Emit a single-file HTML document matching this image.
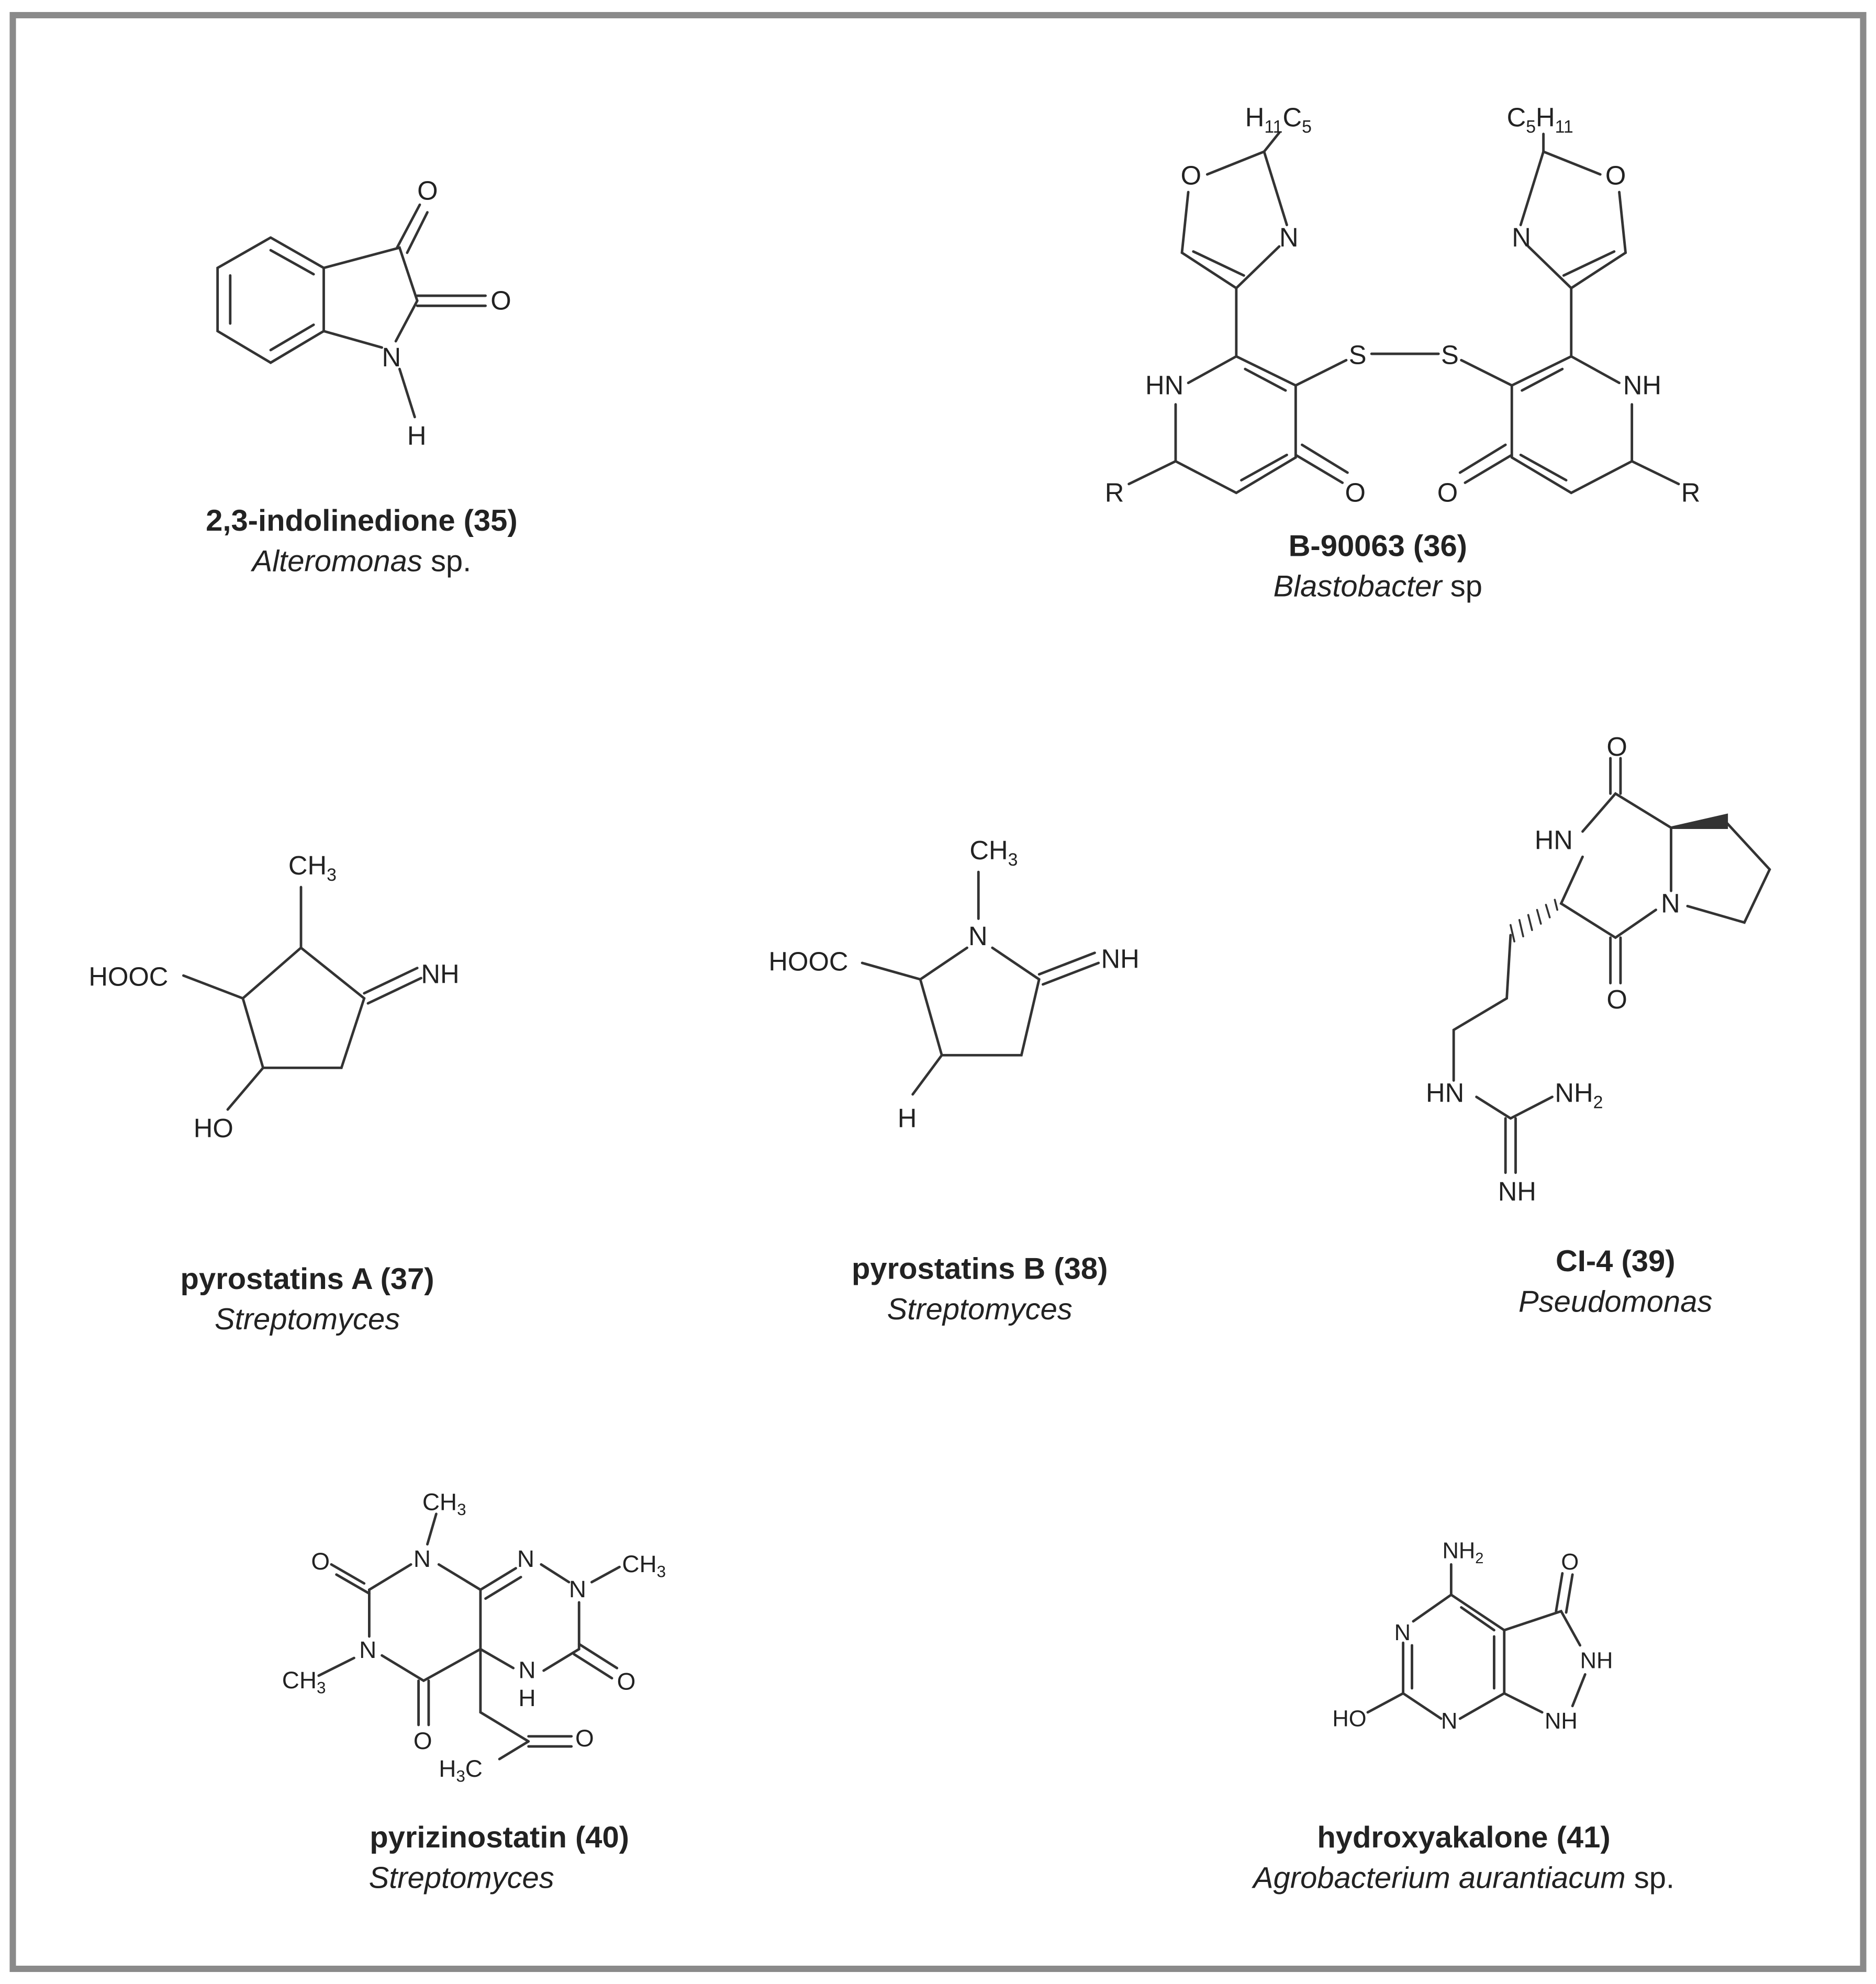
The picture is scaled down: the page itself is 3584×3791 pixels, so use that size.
<!DOCTYPE html>
<html><head><meta charset="utf-8"><style>
html,body{margin:0;padding:0;background:#fff}
svg{display:block}
text{font-family:"Liberation Sans",sans-serif;fill:#222}
.a{font-size:21px}
.t{font-size:24px;font-weight:bold;text-anchor:middle}
.s{font-size:24px;font-style:italic;text-anchor:middle}
</style></head><body>
<svg width="3584" height="3791" viewBox="0 0 1484 1570" xmlns="http://www.w3.org/2000/svg">
<rect x="0" y="0" width="1484" height="1570" fill="#fff"/>
<rect x="10" y="12" width="1464" height="1546" fill="none" stroke="#8a8a8a" stroke-width="5"/>
<g stroke="#333" stroke-width="2" fill="none" stroke-linecap="round">
<!-- 35 -->
<polyline points="214,188 256,212 256,262 214,287 172,262 172,212 214,188"/>
<line x1="182" y1="218" x2="182" y2="256"/><line x1="214" y1="277" x2="248" y2="257"/><line x1="214" y1="198" x2="248" y2="217"/>
<polyline points="256,212 316,196 330,238 313,270"/><line x1="256" y1="262" x2="302" y2="275"/>
<line x1="314" y1="196" x2="332" y2="162"/><line x1="322" y1="200" x2="338" y2="168"/>
<line x1="330" y1="234" x2="384" y2="234"/><line x1="330" y1="242" x2="384" y2="242"/>
<line x1="316" y1="292" x2="328" y2="330"/>
<!-- 36 left -->
<polyline points="940,303 978,282 1025,305 1025,362 978,390 930,365 930,320"/>
<line x1="985" y1="292" x2="1017" y2="309"/><line x1="982" y1="380" x2="1018" y2="360"/>
<line x1="930" y1="365" x2="893" y2="383"/>
<line x1="1025" y1="360" x2="1062" y2="382"/><line x1="1030" y1="352" x2="1066" y2="374"/>
<line x1="1025" y1="305" x2="1065" y2="285"/><line x1="1085" y1="280" x2="1138" y2="280"/>
<line x1="978" y1="282" x2="978" y2="228"/>
<polyline points="1012,195 978,228 935,200 940,152"/><line x1="984" y1="218" x2="944" y2="199"/>
<polyline points="955,138 1000,120 1018,178"/><line x1="1000" y1="120" x2="1012" y2="105"/>
<!-- 36 right -->
<polyline points="1281,303 1243,282 1196,305 1196,362 1243,390 1291,365 1291,320"/>
<line x1="1236" y1="292" x2="1204" y2="309"/><line x1="1239" y1="380" x2="1203" y2="360"/>
<line x1="1291" y1="365" x2="1328" y2="383"/>
<line x1="1196" y1="360" x2="1159" y2="382"/><line x1="1191" y1="352" x2="1155" y2="374"/>
<line x1="1196" y1="305" x2="1156" y2="285"/>
<line x1="1243" y1="282" x2="1243" y2="228"/>
<polyline points="1209,195 1243,228 1286,200 1281,152"/><line x1="1237" y1="218" x2="1277" y2="199"/>
<polyline points="1266,138 1221,120 1203,178"/><line x1="1221" y1="120" x2="1221" y2="106"/>
<!-- 37 -->
<polyline points="238,750 192,790 208,845 270,845 288,790 238,750"/>
<line x1="238" y1="750" x2="238" y2="702"/><line x1="192" y1="790" x2="145" y2="772"/>
<line x1="208" y1="845" x2="180" y2="878"/>
<line x1="288" y1="786" x2="330" y2="766"/><line x1="291" y1="794" x2="333" y2="774"/>
<!-- 38 -->
<polyline points="765,750 728,775 745,835 808,835 822,775 785,750"/>
<line x1="774" y1="727" x2="774" y2="690"/><line x1="728" y1="775" x2="682" y2="762"/>
<line x1="745" y1="835" x2="722" y2="866"/>
<line x1="822" y1="771" x2="866" y2="754"/><line x1="825" y1="779" x2="869" y2="762"/>
<!-- 39 -->
<polyline points="1252,658 1278,628 1322,655 1322,705"/>
<polyline points="1252,678 1235,715 1278,742 1310,720"/>
<line x1="1274" y1="628" x2="1274" y2="600"/><line x1="1282" y1="628" x2="1282" y2="600"/>
<line x1="1274" y1="742" x2="1274" y2="778"/><line x1="1282" y1="742" x2="1282" y2="778"/>
<polyline points="1365,650 1400,688 1380,730 1335,717"/>
<polygon points="1322,655 1366,645 1366,655" fill="#333"/>
<g stroke-width="1.5">
<line x1="1230" y1="712" x2="1232" y2="720"/><line x1="1223" y1="716" x2="1226" y2="726"/><line x1="1216" y1="720" x2="1219" y2="731"/><line x1="1209" y1="724" x2="1212" y2="736"/><line x1="1202" y1="728" x2="1205" y2="741"/><line x1="1195" y1="732" x2="1198" y2="745"/>
</g>
<polyline points="1195,740 1192,790 1150,815 1150,855"/>
<line x1="1168" y1="868" x2="1195" y2="885"/><line x1="1195" y1="885" x2="1228" y2="868"/>
<line x1="1191" y1="885" x2="1191" y2="928"/><line x1="1199" y1="885" x2="1199" y2="928"/>
<!-- 40 -->
<line x1="338" y1="1222" x2="345" y2="1198"/>
<polyline points="325,1238 292,1258 292,1295"/>
<line x1="288" y1="1253" x2="262" y2="1238"/><line x1="292" y1="1261" x2="266" y2="1246"/>
<line x1="280" y1="1312" x2="252" y2="1326"/>
<polyline points="302,1310 335,1330 380,1305 380,1258 347,1238"/>
<line x1="331" y1="1330" x2="331" y2="1365"/><line x1="339" y1="1330" x2="339" y2="1365"/>
<line x1="380" y1="1258" x2="408" y2="1241"/><line x1="384" y1="1265" x2="412" y2="1248"/>
<line x1="428" y1="1238" x2="450" y2="1252"/><line x1="468" y1="1252" x2="490" y2="1240"/>
<polyline points="458,1268 458,1305 430,1322"/>
<line x1="458" y1="1301" x2="488" y2="1320"/><line x1="454" y1="1309" x2="484" y2="1328"/>
<line x1="380" y1="1305" x2="406" y2="1320"/>
<polyline points="380,1305 380,1355 418,1378"/>
<line x1="418" y1="1374" x2="452" y2="1374"/><line x1="418" y1="1382" x2="452" y2="1382"/>
<line x1="418" y1="1378" x2="395" y2="1392"/>
<!-- 41 -->
<line x1="1148" y1="1262" x2="1148" y2="1238"/>
<polyline points="1118,1283 1148,1262 1190,1290 1190,1340 1155,1360"/>
<line x1="1156" y1="1272" x2="1182" y2="1290"/><line x1="1182" y1="1295" x2="1182" y2="1336"/>
<polyline points="1110,1300 1110,1340 1140,1360"/><line x1="1117" y1="1302" x2="1117" y2="1336"/>
<line x1="1110" y1="1340" x2="1082" y2="1355"/>
<polyline points="1190,1290 1235,1275 1250,1302"/><polyline points="1190,1340 1220,1355"/>
<line x1="1254" y1="1325" x2="1244" y2="1350"/>
<line x1="1231" y1="1275" x2="1236" y2="1245"/><line x1="1239" y1="1276" x2="1244" y2="1246"/>
</g>
<g class="a">
<text x="330" y="158">O</text><text x="388" y="245">O</text><text x="302" y="290">N</text><text x="322" y="352">H</text>
<text x="985" y="100">H<tspan font-size="14" dy="5">11</tspan><tspan dy="-5">C</tspan><tspan font-size="14" dy="5">5</tspan></text>
<text x="1192" y="100">C<tspan font-size="14" dy="5">5</tspan><tspan dy="-5">H</tspan><tspan font-size="14" dy="5">11</tspan></text>
<text x="934" y="146">O</text><text x="1012" y="195">N</text><text x="1067" y="288">S</text><text x="1140" y="288">S</text>
<text x="906" y="312">HN</text><text x="874" y="397">R</text><text x="1064" y="397">O</text>
<text x="1270" y="146">O</text><text x="1196" y="195">N</text><text x="1284" y="312">NH</text><text x="1330" y="397">R</text><text x="1137" y="397">O</text>
<text x="228" y="692">CH<tspan font-size="14" dy="5">3</tspan></text><text x="70" y="780">HOOC</text><text x="333" y="778">NH</text><text x="153" y="900">HO</text>
<text x="767" y="680">CH<tspan font-size="14" dy="5">3</tspan></text><text x="766" y="748">N</text><text x="608" y="768">HOOC</text><text x="871" y="766">NH</text><text x="710" y="892">H</text>
<text x="1271" y="598">O</text><text x="1214" y="672">HN</text><text x="1314" y="722">N</text><text x="1271" y="798">O</text>
<text x="1128" y="872">HN</text><text x="1230" y="872">NH<tspan font-size="14" dy="5">2</tspan></text><text x="1185" y="950">NH</text>
<g font-family="Liberation Serif" font-size="19">
<text x="334" y="1195">CH<tspan font-size="13" dy="4">3</tspan></text><text x="327" y="1240">N</text><text x="246" y="1242">O</text>
<text x="284" y="1312">N</text><text x="223" y="1336">CH<tspan font-size="13" dy="4">3</tspan></text><text x="327" y="1384">O</text>
<text x="409" y="1240">N</text><text x="450" y="1264">N</text><text x="492" y="1244">CH<tspan font-size="13" dy="4">3</tspan></text>
<text x="488" y="1337">O</text><text x="410" y="1328">N</text><text x="410" y="1350">H</text><text x="455" y="1382">O</text>
<text x="347" y="1406">H<tspan font-size="13" dy="4">3</tspan><tspan dy="-4">C</tspan></text>
</g>
<g font-family="Liberation Serif" font-size="18">
<text x="1141" y="1233">NH<tspan font-size="12" dy="4">2</tspan></text><text x="1235" y="1242">O</text>
<text x="1103" y="1298">N</text><text x="1140" y="1368">N</text><text x="1054" y="1366">HO</text>
<text x="1250" y="1320">NH</text><text x="1222" y="1368">NH</text>
</g>
</g>
<text class="t" x="286" y="420">2,3-indolinedione (35)</text>
<text class="s" x="286" y="452">Alteromonas<tspan font-style="normal"> sp.</tspan></text>
<text class="t" x="1090" y="440">B-90063 (36)</text>
<text class="s" x="1090" y="472">Blastobacter<tspan font-style="normal"> sp</tspan></text>
<text class="t" x="243" y="1020">pyrostatins A (37)</text>
<text class="s" x="243" y="1052">Streptomyces</text>
<text class="t" x="775" y="1012">pyrostatins B (38)</text>
<text class="s" x="775" y="1044">Streptomyces</text>
<text class="t" x="1278" y="1006">CI-4 (39)</text>
<text class="s" x="1278" y="1038">Pseudomonas</text>
<text class="t" x="395" y="1462">pyrizinostatin (40)</text>
<text class="s" x="365" y="1494">Streptomyces</text>
<text class="t" x="1158" y="1462">hydroxyakalone (41)</text>
<text class="s" x="1158" y="1494">Agrobacterium aurantiacum<tspan font-style="normal"> sp.</tspan></text>
</svg>
</body></html>
